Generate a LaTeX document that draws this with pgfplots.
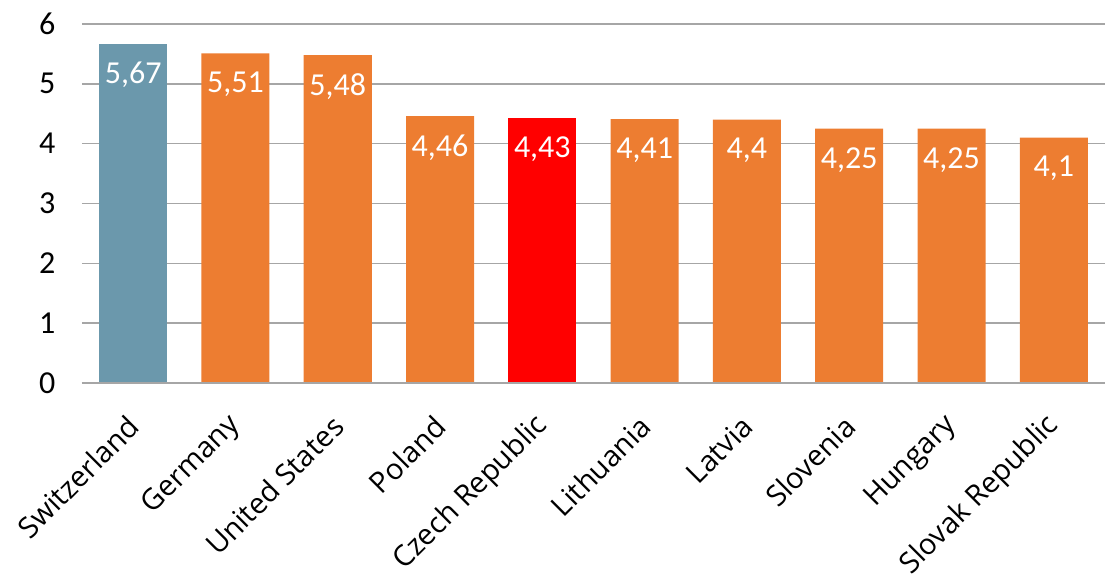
\documentclass[border=0pt]{standalone}
\usepackage{pgfplots}
\pgfplotsset{compat=1.18}
\usepackage{fontspec}
\setmainfont{Carlito}
\newfontfamily\labelfont{Open Sans}
\definecolor{barblue}{HTML}{6B98AC}
\definecolor{barorange}{HTML}{ED7D31}
\definecolor{barred}{HTML}{FF0000}
\definecolor{gridgray}{HTML}{A6A6A6}
\begin{document}
\begin{tikzpicture}
\useasboundingbox (-82pt,-197pt) rectangle (1027pt,383pt);
\begin{axis}[
  at={(0,0)}, anchor=south west,
  scale only axis,
  width=1023pt, height=359pt,
  ybar, bar width=0.665,
  xmin=-0.5, xmax=9.5,
  ymin=0, ymax=6,
  ytick={0,1,2,3,4,5,6},
  xtick={0,...,9},
  xticklabels={Switzerland,Germany,United States,Poland,Czech Republic,Lithuania,Latvia,Slovenia,Hungary,Slovak Republic},
  xticklabel style={xshift=3pt, yshift=-36pt, rotate=45, anchor=east, font=\labelfont\fontsize{29}{34}\selectfont},
  yticklabel style={font=\fontsize{32}{38}\selectfont, xshift=-23pt},
  /pgf/number format/assume math mode=true,
  major tick length=0pt,
  axis line style={draw=none},
  ymajorgrids, grid style={gridgray, line width=1.5pt},
  nodes near coords,
  /pgf/number format/use comma,
  every node near coord/.append style={font=\fontsize{32}{38}\selectfont, text=white, anchor=north, yshift=-15pt},
  clip=false,
]
\addplot[fill=barblue, draw=none, bar shift=0pt] coordinates {(0,5.67)};
\addplot[fill=barorange, draw=none, bar shift=0pt] coordinates {
  (1,5.51) (2,5.48) (3,4.46) (5,4.41) (6,4.4) (7,4.25) (8,4.25) (9,4.1)};
\addplot[fill=barred, draw=none, bar shift=0pt] coordinates {(4,4.43)};
\draw[gridgray, line width=2.5pt] (axis cs:-0.5,0) -- (axis cs:9.5,0);
\end{axis}
\end{tikzpicture}
\end{document}
